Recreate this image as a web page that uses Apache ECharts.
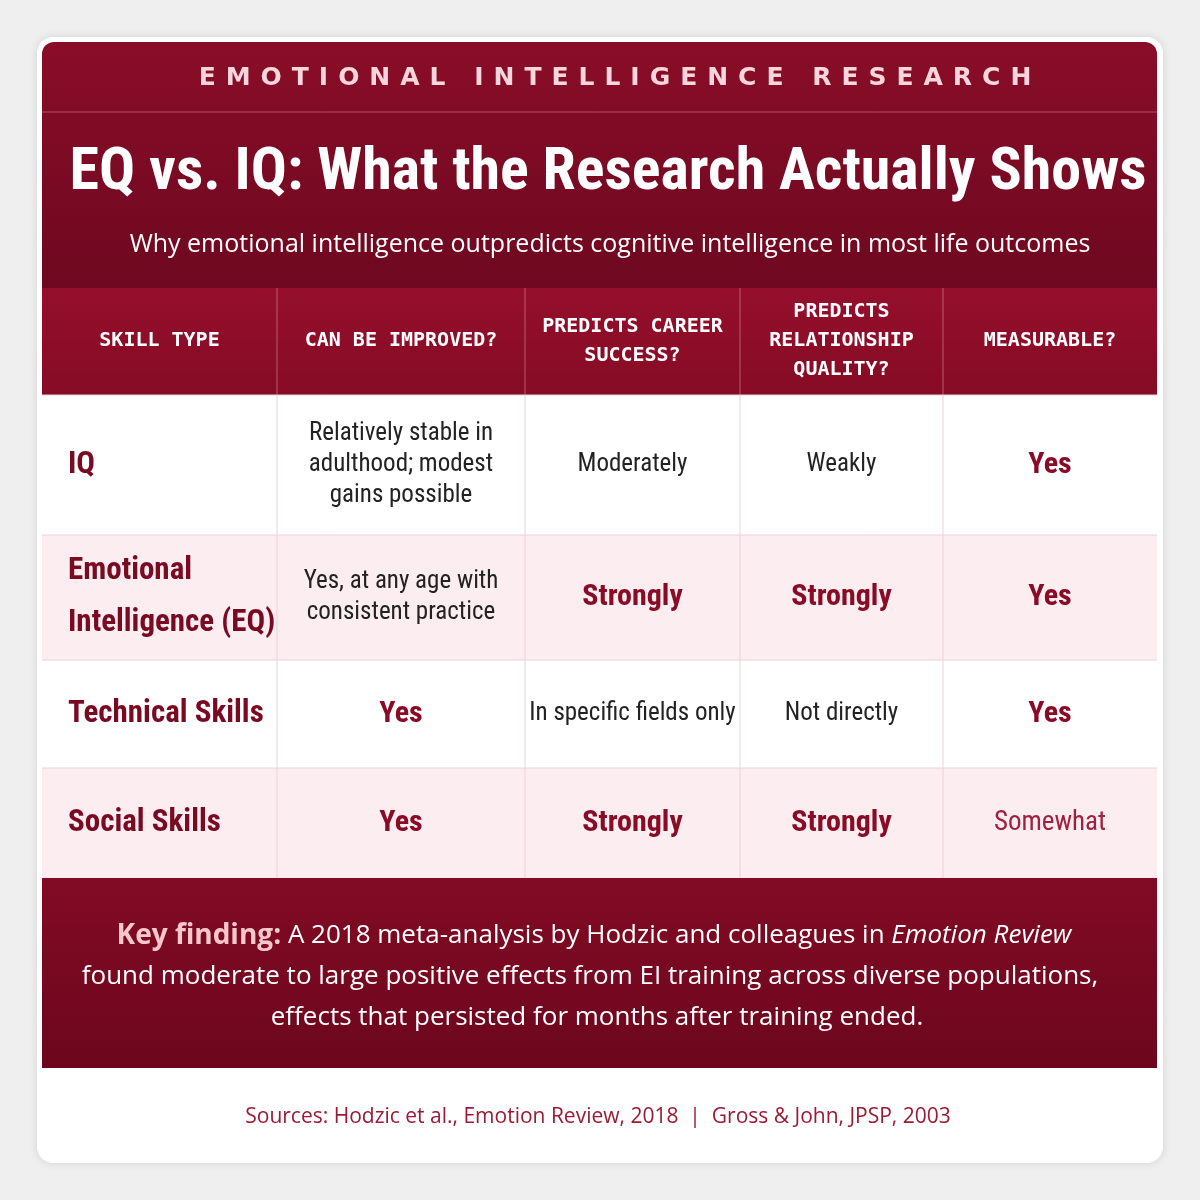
<!DOCTYPE html>
<html><head><meta charset="utf-8">
<script src="https://cdn.jsdelivr.net/npm/echarts@6/dist/echarts.min.js"></script>
<style>html,body{margin:0;padding:0;background:#efefef}#c{width:1200px;height:1200px}</style>
</head><body><div id="c"></div>
<script>
const kicker = 'EMOTIONAL INTELLIGENCE RESEARCH';
const title = 'EQ vs. IQ: What the Research Actually Shows';
const subtitle = 'Why emotional intelligence outpredicts cognitive intelligence in most life outcomes';
const headers = ['SKILL TYPE', 'CAN BE IMPROVED?', 'PREDICTS CAREER\nSUCCESS?', 'PREDICTS\nRELATIONSHIP\nQUALITY?', 'MEASURABLE?'];
const skills = ['IQ', 'Emotional\nIntelligence (EQ)', 'Technical Skills', 'Social Skills'];
const improved = ['Relatively stable in\nadulthood; modest\ngains possible', 'Yes, at any age with\nconsistent practice', 'Yes', 'Yes'];
const career = ['Moderately', 'Strongly', 'In specific fields only', 'Strongly'];
const relationship = ['Weakly', 'Strongly', 'Not directly', 'Strongly'];
const measurable = ['Yes', 'Yes', 'Yes', 'Somewhat'];
const emphasized = ['Yes', 'Strongly'];
const source = 'Sources: Hodzic et al., Emotion Review, 2018  |  Gross & John, JPSP, 2003';

const cond = '"Liberation Sans Narrow","Roboto Condensed",Roboto,sans-serif';
const colX = [42, 277, 525, 740, 943, 1157];
const rowY = [395, 535, 660, 768, 878];
const g = [];
g.push({type:'rect',shape:{x:37,y:37,width:1126,height:1126,r:16},style:{fill:'#fff',shadowBlur:8,shadowColor:'rgba(0,0,0,0.12)'}});
g.push({type:'rect',shape:{x:42,y:42,width:1115,height:246,r:[12,12,0,0]},style:{fill:new echarts.graphic.LinearGradient(0,0,0,1,[{offset:0,color:'#8a0d28'},{offset:1,color:'#6e0820'}])}});
g.push({type:'line',shape:{x1:42,y1:112,x2:1157,y2:112},style:{stroke:'rgba(255,200,210,0.35)',lineWidth:1}});
g.push({type:'text',x:615,y:78,style:{text:kicker.split('').join('\u2009\u2009'),fill:'#f8d6db',font:'bold 25px "DejaVu Sans",sans-serif',align:'center',verticalAlign:'middle'}});
g.push({type:'text',x:608,y:174,style:{text:title,fill:'#fff',font:'bold 60px '+cond,align:'center',verticalAlign:'middle'}});
g.push({type:'text',x:610,y:245,style:{text:subtitle,fill:'#fff',font:'25px "Open Sans",sans-serif',align:'center',verticalAlign:'middle'}});
// header row
g.push({type:'rect',shape:{x:42,y:288,width:1115,height:107},style:{fill:new echarts.graphic.LinearGradient(0,0,0,1,[{offset:0,color:'#950f2c'},{offset:1,color:'#860b24'}])}});
headers.forEach((h,i)=>{
  g.push({type:'text',x:(colX[i]+colX[i+1])/2,y:341,style:{text:h,fill:'#fff',font:'bold 20px "DejaVu Sans Mono",monospace',align:'center',verticalAlign:'middle',lineHeight:29}});
});
const cols = [skills, improved, career, relationship, measurable];
skills.forEach((s,r)=>{
  g.push({type:'rect',shape:{x:42,y:rowY[r],width:1115,height:rowY[r+1]-rowY[r]},style:{fill:r%2?'#fbedf0':'#fff'}});
  g.push({type:'line',shape:{x1:42,y1:rowY[r],x2:1157,y2:rowY[r]},style:{stroke:'#ecd3d8',lineWidth:1}});
  const cy=(rowY[r]+rowY[r+1])/2;
  cols.forEach((col,c)=>{
    const v=col[r];
    let style;
    if(c===0) style={text:v,fill:'#7a0a22',font:'bold 31px '+cond,align:'left',verticalAlign:'middle',lineHeight:52};
    else if(emphasized.includes(v)) style={text:v,fill:'#8a0b26',font:'bold 30px '+cond,align:'center',verticalAlign:'middle'};
    else if(c===4) style={text:v,fill:'#a2203f',font:'27px '+cond,align:'center',verticalAlign:'middle'};
    else style={text:v,fill:'#222',font:'25px '+cond,align:'center',verticalAlign:'middle',lineHeight:31};
    g.push({type:'text',x:c===0?68:(colX[c]+colX[c+1])/2,y:cy,style});
  });
});
colX.slice(1,5).forEach(x=>{
  g.push({type:'line',shape:{x1:x,y1:288,x2:x,y2:395},style:{stroke:'rgba(255,210,215,0.4)',lineWidth:1}});
  g.push({type:'line',shape:{x1:x,y1:395,x2:x,y2:878},style:{stroke:'#ecd3d8',lineWidth:1}});
});
g.push({type:'rect',shape:{x:42,y:878,width:1115,height:190},style:{fill:new echarts.graphic.LinearGradient(0,0,0,1,[{offset:0,color:'#820a24'},{offset:1,color:'#6c071e'}])}});
const kf = {fill:'#fff',font:'26px "Open Sans",sans-serif'};
g.push({type:'text',x:594,y:936,style:{text:'{b|Key finding:} A 2018 meta-analysis by Hodzic and colleagues in {i|Emotion Review}',fill:'#fff',font:'26px "Open Sans",sans-serif',align:'center',verticalAlign:'middle',rich:{b:{fill:'#f8c7cd',font:'bold 28px "Open Sans",sans-serif'},i:{fill:'#fff',font:'italic 26px "Open Sans",sans-serif'}}}});
g.push({type:'text',x:590,y:977,style:Object.assign({text:'found moderate to large positive effects from EI training across diverse populations,',align:'center',verticalAlign:'middle'},kf)});
g.push({type:'text',x:597,y:1018,style:Object.assign({text:'effects that persisted for months after training ended.',align:'center',verticalAlign:'middle'},kf)});
g.push({type:'text',x:598,y:1117,style:{text:source,fill:'#9b1b35',font:'21px "Open Sans",sans-serif',align:'center',verticalAlign:'middle'}});
const chart = echarts.init(document.getElementById('c'));
chart.setOption({backgroundColor:'#efefef',graphic:{elements:g}});
</script></body></html>
